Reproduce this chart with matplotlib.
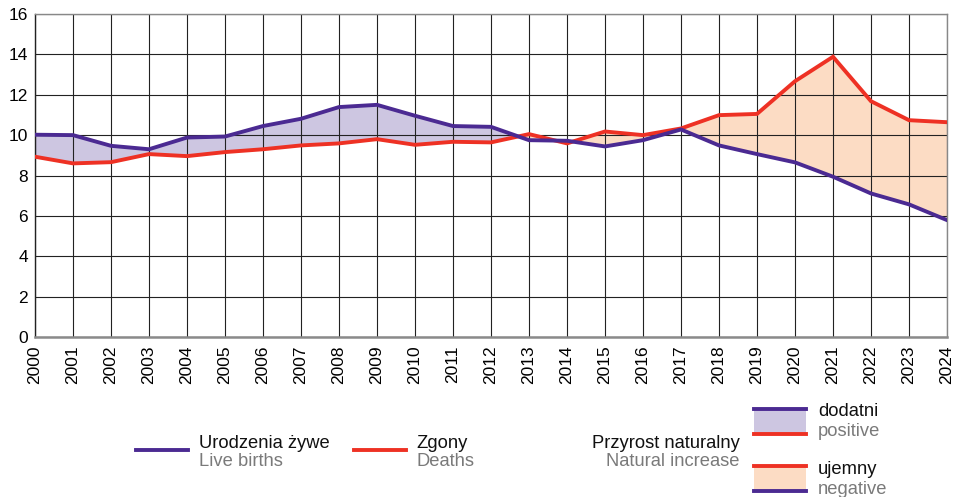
import matplotlib
matplotlib.use("Agg")
import matplotlib.pyplot as plt
from matplotlib.patches import Rectangle
from matplotlib.lines import Line2D
import numpy as np

plt.rcParams["font.family"] = ["Liberation Sans", "DejaVu Sans"]

years = list(range(2000, 2025))
live_births = [10.02, 10.00, 9.47, 9.30, 9.88, 9.93, 10.45, 10.81, 11.39, 11.50,
               10.96, 10.45, 10.41, 9.75, 9.72, 9.44, 9.75, 10.28, 9.49, 9.06,
               8.65, 7.94, 7.11, 6.57, 5.79]
deaths = [8.93, 8.60, 8.66, 9.06, 8.96, 9.16, 9.30, 9.49, 9.59, 9.80,
          9.52, 9.67, 9.64, 10.05, 9.59, 10.18, 10.00, 10.33, 10.99, 11.05,
          12.67, 13.88, 11.68, 10.74, 10.64]
y_ticks = [0, 2, 4, 6, 8, 10, 12, 14, 16]

purple = "#4b2a92"
red = "#ee3124"
fill_pos = "#cdc6e1"
fill_neg = "#fcdcc4"
grey_text = "#7a7a7a"
legend_fs = 13.2

fig = plt.figure(figsize=(9.56, 4.97), dpi=100)
ax = fig.add_axes([35 / 956, 1 - 337 / 497, 912 / 956, 323 / 497])

x = np.array(years)
b = np.array(live_births)
d = np.array(deaths)
ax.fill_between(x, b, d, where=b >= d, interpolate=True, color=fill_pos, lw=0, zorder=1)
ax.fill_between(x, b, d, where=b < d, interpolate=True, color=fill_neg, lw=0, zorder=1)

for yr in years:
    ax.axvline(yr, color="#222222", lw=0.8, zorder=2)
for t in y_ticks:
    ax.axhline(t, color="#222222", lw=0.8, zorder=2)

ax.plot(x, d, color=red, lw=2.8, zorder=3, solid_joinstyle="miter")
ax.plot(x, b, color=purple, lw=2.8, zorder=4, solid_joinstyle="miter")

ax.set_xlim(2000, 2024)
ax.set_ylim(0, 16)
ax.set_xticks(years)
ax.set_xticklabels([str(y) for y in years], rotation=90, fontsize=12.5)
ax.set_yticks(y_ticks)
ax.set_yticklabels([str(t) for t in y_ticks], fontsize=12.5)
ax.tick_params(length=0, pad=6)
ax.tick_params(axis="y", pad=5)
for side in ["top", "right"]:
    ax.spines[side].set_color("#888888")
    ax.spines[side].set_linewidth(1.0)
ax.spines["left"].set_color("#222222")
ax.spines["left"].set_linewidth(1.0)
ax.spines["bottom"].set_color("#8a8a8a")
ax.spines["bottom"].set_linewidth(1.8)


def fx(px):
    return px / 956


def fy(py):
    return 1 - py / 497


def two_line(px, py_top, top, bottom, ha="left", gap=19):
    fig.text(fx(px), fy(py_top), top, ha=ha, va="center", fontsize=legend_fs, color="#111111")
    fig.text(fx(px), fy(py_top + gap), bottom, ha=ha, va="center", fontsize=legend_fs, color=grey_text)


# series keys
fig.add_artist(Line2D([fx(136), fx(188)], [fy(450), fy(450)], color=purple, lw=2.8))
two_line(199, 444, "Urodzenia żywe", "Live births", gap=18)
fig.add_artist(Line2D([fx(354), fx(406)], [fy(450), fy(450)], color=red, lw=2.8))
two_line(416, 444, "Zgony", "Deaths", gap=18)
two_line(740, 444, "Przyrost naturalny", "Natural increase", ha="right", gap=18)

# natural increase keys: positive and negative
fig.add_artist(Rectangle((fx(754), fy(434)), fx(52), 25 / 497, color=fill_pos, lw=0))
fig.add_artist(Line2D([fx(754), fx(806)], [fy(409), fy(409)], color=purple, lw=2.8))
fig.add_artist(Line2D([fx(754), fx(806)], [fy(434), fy(434)], color=red, lw=2.8))
two_line(818, 412, "dodatni", "positive", gap=20)

fig.add_artist(Rectangle((fx(754), fy(491)), fx(52), 25 / 497, color=fill_neg, lw=0))
fig.add_artist(Line2D([fx(754), fx(806)], [fy(466), fy(466)], color=red, lw=2.8))
fig.add_artist(Line2D([fx(754), fx(806)], [fy(491), fy(491)], color=purple, lw=2.8))
two_line(818, 470, "ujemny", "negative", gap=19)

fig.savefig("out.png", dpi=100)
